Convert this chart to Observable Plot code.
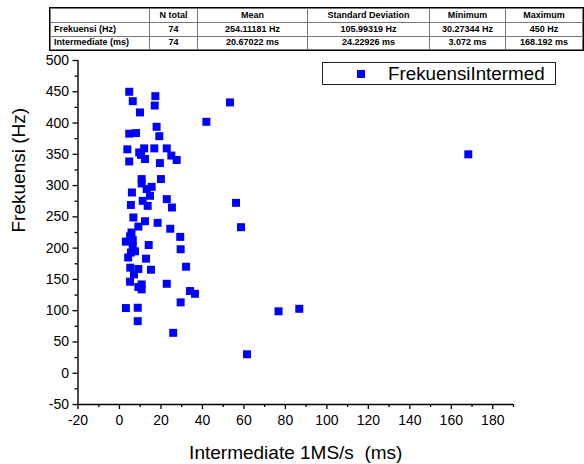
<!DOCTYPE html>
<html>
<head>
<meta charset="utf-8">
<script src="https://cdn.jsdelivr.net/npm/d3@7"></script>
<script src="https://cdn.jsdelivr.net/npm/@observablehq/plot@0.6"></script>
<style>
  body { margin: 0; background: #fff; font-family: "Liberation Sans", Arial, sans-serif; }
  #wrap { position: relative; width: 584px; height: 464px; overflow: hidden; }
  #stats { height: 50px; position: relative; }
  #stats table {
    position: absolute; left: 50px; top: 8px;
    border-collapse: collapse; table-layout: fixed;
    font-size: 9px; font-weight: bold; color: #000;
    outline: 1px solid #000;
  }
  #stats td {
    border: 1px solid #777; height: 12.8px; padding: 0 3px; line-height: 11px;
    text-align: center; font-weight: bold; white-space: nowrap; overflow: hidden;
  }
  #stats td.rowhead { text-align: left; }
  #legend {
    position: absolute; left: 322px; top: 62px; width: 234px; height: 23px;
    border: 1px solid #222; box-sizing: border-box; background: #fff;
  }
  #legend .sw { position: absolute; left: 34px; top: 7px; width: 8px; height: 8px; background: #0000ff; }
  #legend .lb { position: absolute; left: 65px; top: 0px; font-size: 18.8px; line-height: 21px; color: #000; white-space: nowrap; }
</style>
</head>
<body>
<div id="wrap">
  <div id="stats"></div>
  <div id="chart"></div>
  <div id="legend"><div class="sw"></div><div class="lb">FrekuensiIntermed</div></div>
</div>
<script>
// Descriptive statistics table
const statHeaders = ["", "N total", "Mean", "Standard Deviation", "Minimum", "Maximum"];
const statColWidths = [99, 48, 110, 122, 76, 77];
const freqStats = ["Frekuensi (Hz)", "74", "254.11181 Hz", "105.99319 Hz", "30.27344 Hz", "450 Hz"];
const intermStats = ["Intermediate (ms)", "74", "20.67022 ms", "24.22926 ms", "3.072 ms", "168.192 ms"];

// Measured samples: intermediate time (ms) and frequency (Hz)
const intermMs = [
  4.7, 6.4, 17.3, 17.0, 9.9, 41.9, 53.3, 17.9, 4.7, 8.0,
  19.2, 3.8, 11.9, 16.8, 22.8, 10.4, 12.3, 25.0, 27.6, 4.7,
  19.5, 10.7, 20.0, 10.7, 15.5, 13.1, 6.0, 14.7, 11.2, 22.8,
  5.5, 13.6, 25.3, 6.7, 12.3, 18.4, 9.1, 24.5, 5.1, 29.3,
  3.072, 6.4, 6.4, 14.1, 29.5, 5.5, 4.2, 12.8, 5.2, 9.1,
  15.2, 32.1, 7.0, 5.1, 10.7, 22.8, 9.1, 10.7, 34.0, 36.4,
  29.5, 3.1, 8.8, 8.8, 25.9, 56.2, 58.6, 76.7, 86.7, 61.5,
  168.192, 7.5, 9.5, 5.8
];
const freqHz = [
  450, 435, 443, 428, 417, 402, 433, 394, 383, 384,
  379, 358, 359.5, 359.5, 359.5, 349, 342.5, 348, 341, 338.6,
  336, 310.4, 310.4, 303.4, 298, 294.4, 289, 283.7, 275.6, 278.4,
  269, 267.6, 265, 249, 243, 240.4, 234.5, 231, 218.8, 218,
  210.4, 213, 203.5, 205, 198.2, 193, 185, 183.2, 168.8, 166.7,
  165.5, 170.3, 158, 146.3, 142, 143, 137.8, 134, 131.4, 127,
  113.3, 104.2, 104.7, 83.3, 64.6, 272.4, 233.5, 99, 103, 30.27344,
  350, 195, 353, 225
];

// Axis ticks
const xMajor = [-20, 0, 20, 40, 60, 80, 100, 120, 140, 160, 180];
const xMinor = [-10, 10, 30, 50, 70, 90, 110, 130, 150, 170, 190];
const yMajor = [-50, 0, 50, 100, 150, 200, 250, 300, 350, 400, 450, 500];
const yMinor = [-25, 25, 75, 125, 175, 225, 275, 325, 375, 425, 475];

const xTitle = "Intermediate 1MS/s\u00a0 (ms)";
const yTitle = "Frekuensi (Hz)";

// plain hyphen-minus for negative tick labels
const plainNumber = d => String(d);

// build the statistics table
const table = document.createElement("table");
const colgroup = document.createElement("colgroup");
statColWidths.forEach(w => { const c = document.createElement("col"); c.style.width = w + "px"; colgroup.appendChild(c); });
table.appendChild(colgroup);
[statHeaders, freqStats, intermStats].forEach(row => {
  const tr = document.createElement("tr");
  row.forEach((v, i) => {
    const td = document.createElement("td");
    if (i === 0) td.className = "rowhead";
    td.textContent = v;
    tr.appendChild(td);
  });
  table.appendChild(tr);
});
document.getElementById("stats").appendChild(table);

const points = intermMs.map((x, i) => ({x, y: freqHz[i]}));

const chart = Plot.plot({
  width: 584,
  height: 414,
  marginLeft: 77.5,
  marginRight: 71,
  marginTop: 10,
  marginBottom: 60,
  style: {fontFamily: "'Liberation Sans', Arial, sans-serif", color: "#000", background: "#fff"},
  x: {domain: [-20, 190]},
  y: {domain: [-50, 500]},
  marks: [
    Plot.axisX({ticks: xMajor, tickSize: 5, tickPadding: 6, fontSize: 14, strokeWidth: 1.3, tickFormat: plainNumber, label: null}),
    Plot.axisX({ticks: xMinor, tickSize: 3, text: null, strokeWidth: 1.3, label: null}),
    Plot.axisY({ticks: yMajor, tickSize: 5, tickPadding: 4, fontSize: 14, strokeWidth: 1.3, tickFormat: plainNumber, label: null}),
    Plot.axisY({ticks: yMinor, tickSize: 3, text: null, strokeWidth: 1.3, label: null}),
    Plot.ruleY([-50], {stroke: "#000", strokeWidth: 1.4}),
    Plot.ruleX([-20], {stroke: "#000", strokeWidth: 1.4}),
    Plot.dot(points, {x: "x", y: "y", symbol: "square", r: 4.5, fill: "#0000ff", stroke: null}),
    Plot.text([xTitle], {frameAnchor: "bottom", dy: 48, fontSize: 19, lineAnchor: "middle"}),
    Plot.text([yTitle], {frameAnchor: "left", dx: -59, rotate: -90, fontSize: 19, lineAnchor: "middle"})
  ]
});
document.getElementById("chart").appendChild(chart);
</script>
</body>
</html>
